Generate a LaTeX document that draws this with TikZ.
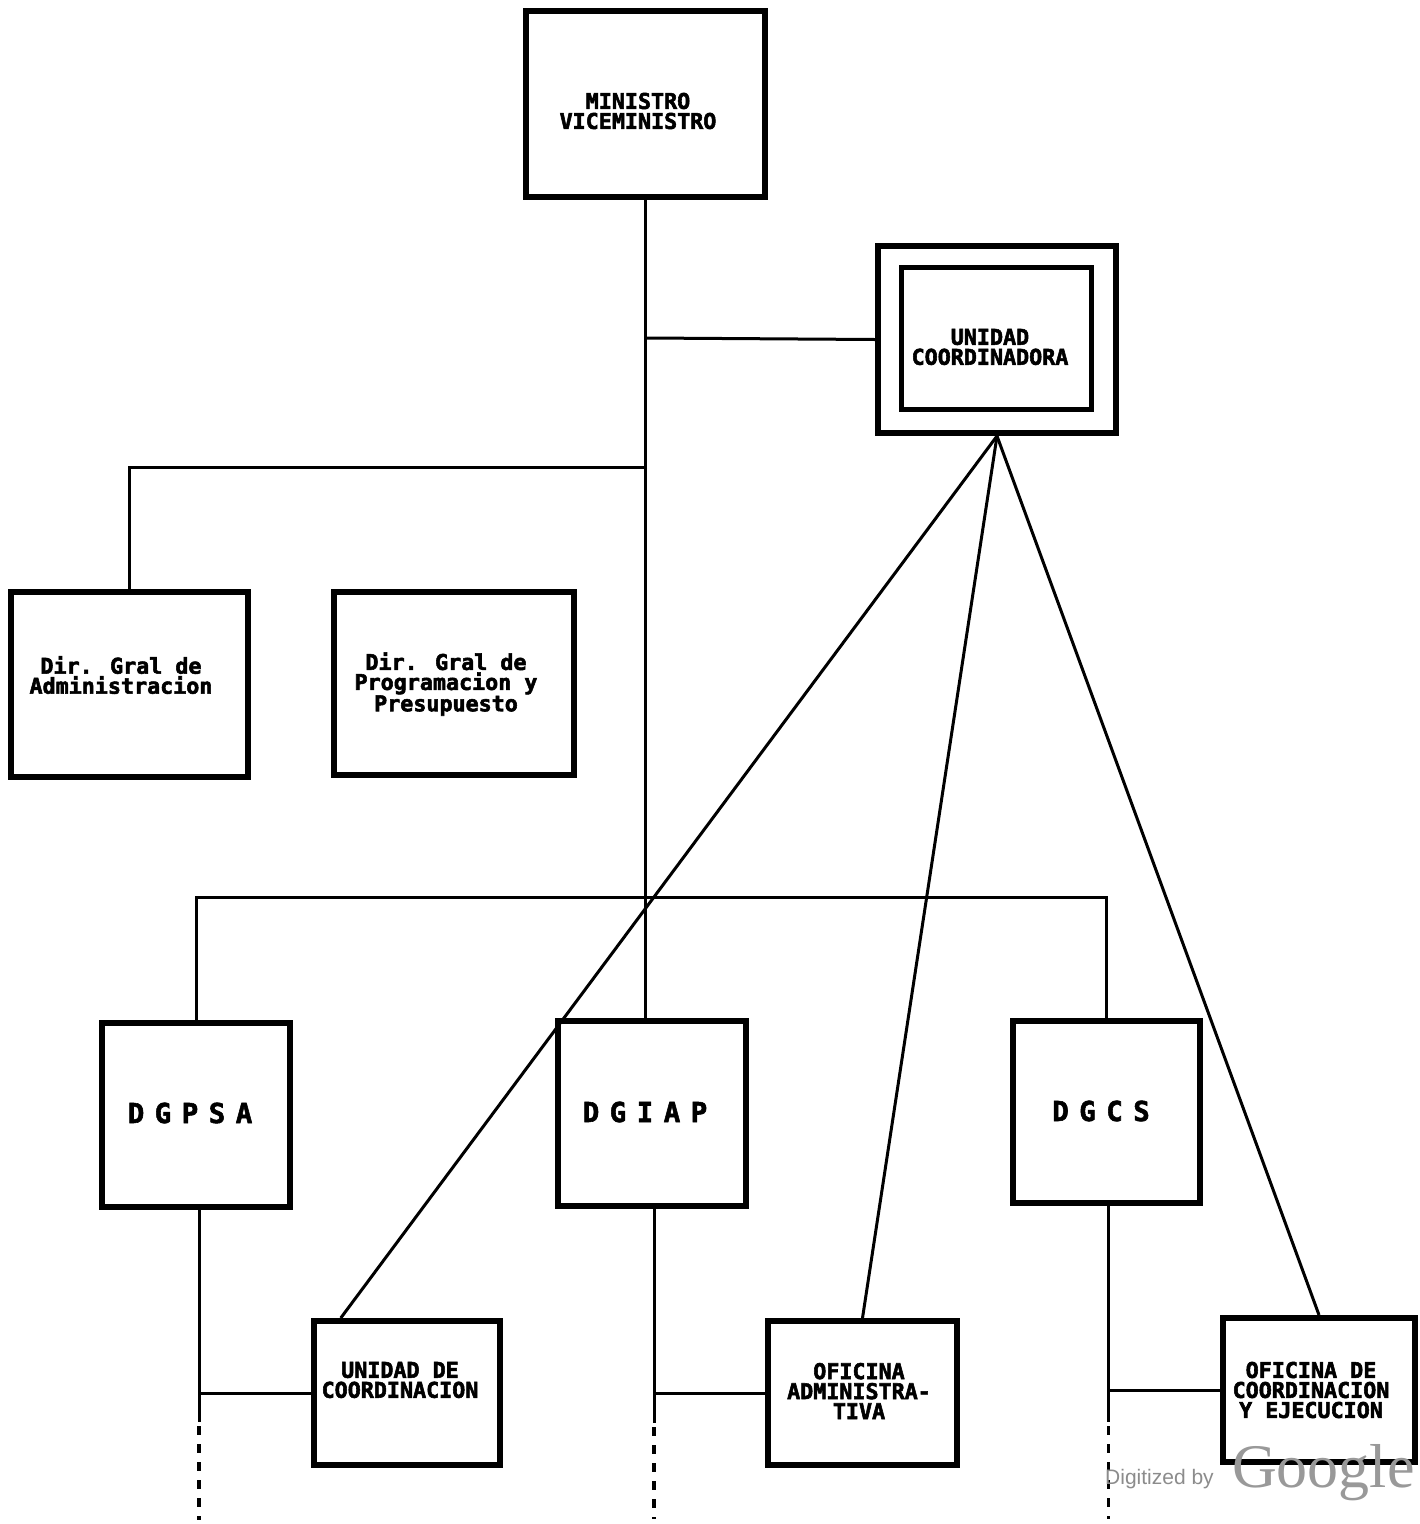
\documentclass[tikz,border=0pt]{standalone}
\usepackage{fontspec}
\newfontfamily\dmono{DejaVu Sans Mono}[FakeBold=2.5]
\newfontfamily\dlet{DejaVu Sans Mono}[LetterSpace=38,FakeBold=2]
\newfontfamily\wmsans{Liberation Sans}
\newfontfamily\wmserif{Liberation Serif}
\usetikzlibrary{calc}
\begin{document}
\begin{tikzpicture}[x=1pt,y=-1pt,
  box/.style={draw, line width=6pt, rectangle, inner sep=0pt, fill=white},
  conn/.style={line width=3pt},
  dashconn/.style={line width=3.5pt, dash pattern=on 9pt off 9pt},
  txt/.style={font=\dmono\bfseries\fontsize{21.7}{20}\selectfont, align=center, inner sep=0pt},
  big/.style={font=\dlet\bfseries\fontsize{27.5}{30}\selectfont, inner sep=0pt}]
\useasboundingbox[fill=white] (0,0) rectangle (1420,1524);

% boxes
\node[box, minimum width=239pt, minimum height=186pt] (min) at (645.5,104) {};
\node[box, minimum width=238pt, minimum height=187pt] (uc) at (997,339.5) {};
\node[box, line width=5pt, minimum width=190pt, minimum height=142pt] (uci) at (996.5,338.5) {};
\node[box, minimum width=237pt, minimum height=185pt] (dga) at (129.5,684.5) {};
\node[box, minimum width=240pt, minimum height=183pt] (dgp) at (454,683.5) {};

% junctions
\coordinate (j1) at (647,338);
\coordinate (j2) at (647,467);
\coordinate (j3) at (647,897);

\node[box, minimum width=188pt, minimum height=184pt] (dgpsa) at (196,1115) {};
\node[box, minimum width=188pt, minimum height=185pt] (dgiap) at (652,1113.5) {};
\node[box, minimum width=187pt, minimum height=182pt] (dgcs) at (1106.5,1112) {};
\node[box, minimum width=186pt, minimum height=144pt] (udc) at (407,1393) {};
\node[box, minimum width=189pt, minimum height=144pt] (oa) at (862.5,1393) {};
\node[box, minimum width=192pt, minimum height=144pt] (oce) at (1319,1390) {};

\draw[conn] (min.south) -- (min.south |- dgiap.north);
\draw[conn] (j1) -- (uc.west);
\draw[conn] (j2) -| (dga.north);
\draw[conn] (dgpsa.north) |- (j3) -| (dgcs.north);

\draw[conn] (uc.south) -- ($(udc.north west)!0.155!(udc.north east)$);
\draw[conn] (uc.south) -- (oa.north);
\draw[conn] (uc.south) -- (oce.north);

% lower verticals
\coordinate (d1) at ($(dgpsa.south)+(3,310)$);
\coordinate (d2) at ($(dgiap.south)+(2,310)$);
\coordinate (d3) at ($(dgcs.south)+(2,313)$);
\draw[conn] ($(dgpsa.south)+(3,0)$) -- ($(dgpsa.south)+(3,212)$);
\draw[dashconn] ($(dgpsa.south)+(3,216)$) -- (d1);
\draw[conn] ($(dgiap.south)+(2,0)$) -- ($(dgiap.south)+(2,214)$);
\draw[dashconn] ($(dgiap.south)+(2,218)$) -- (d2);
\draw[conn] ($(dgcs.south)+(2,0)$) -- ($(dgcs.south)+(2,216)$);
\draw[dashconn] ($(dgcs.south)+(2,220)$) -- (d3);
\draw[conn] (udc.west) -- ++(-110,0);
\draw[conn] (oa.west) -- ++(-110,0);
\draw[conn] (oce.west) -- ++(-110,0);

% texts
\node[txt] (tmin) at (638,111) {MINISTRO\\VICEMINISTRO};
\node[txt] (tuc) at (990,347) {UNIDAD\\COORDINADORA};
\node[txt] (tdga) at (121,675) {Dir. Gral de\\Administracion};
\node[txt] (tdgp) at (446,684) {Dir. Gral de\\Programacion y\\Presupuesto};
\node[big] (tdgpsa) at (190,1113) {DGPSA};
\node[big] (tdgiap) at (645,1112) {DGIAP};
\node[big] (tdgcs) at (1101,1111) {DGCS};
\node[txt] (tudc) at (400,1380) {UNIDAD DE\\COORDINACION};
\node[txt] (toa) at (859,1391) {OFICINA\\ADMINISTRA-\\TIVA};
\node[txt] (toce) at (1311,1390) {OFICINA DE\\COORDINACION\\Y EJECUCION};

% watermark
\node[font=\wmsans\fontsize{21}{24}\selectfont, text=black!45, anchor=base west, inner sep=0pt] (wm1) at (1105,1484) {Digitized by};
\node[font=\wmserif\fontsize{62}{66}\selectfont, text=black!40, anchor=base west, inner sep=0pt] (wm2) at (1232,1487) {Google};
\end{tikzpicture}
\end{document}
